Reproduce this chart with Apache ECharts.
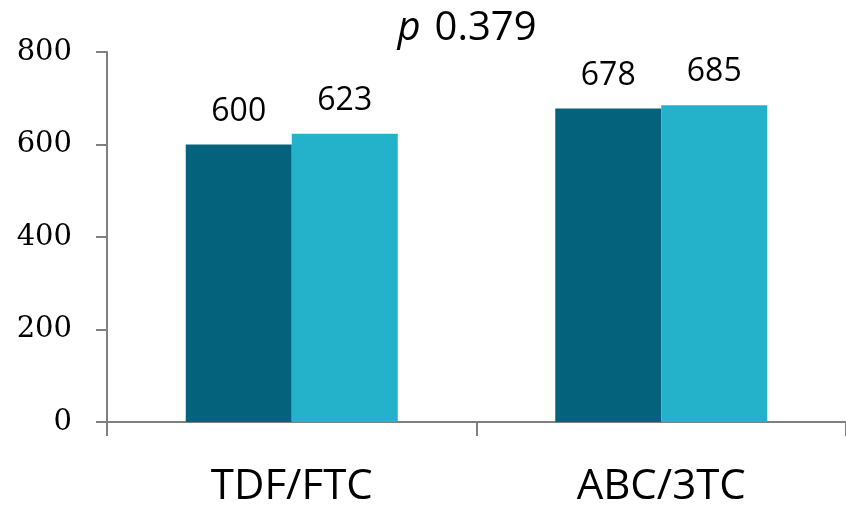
<!DOCTYPE html>
<html><head><meta charset="utf-8">
<script src="https://cdn.jsdelivr.net/npm/echarts@6/dist/echarts.min.js"></script>
<style>html,body{margin:0;padding:0;background:#fff}#c{width:846px;height:508px}</style>
</head><body><div id="c"></div>
<script>
const categories = ['TDF/FTC', 'ABC/3TC'];
const seriesA = [600, 678];
const seriesB = [623, 685];
const yTicks = [0, 200, 400, 600, 800];
const titleText = '0.379';

const chart = echarts.init(document.getElementById('c'));
const labelStyle = {show: true, position: 'top', distance: 17, fontFamily: 'Open Sans', fontSize: 32, color: '#000'};
chart.setOption({
  animation: false,
  title: {
    text: '{i|p}{n|' + titleText + '}',
    left: 462, top: 4, textAlign: 'center',
    textStyle: {rich: {
      i: {fontFamily: 'Open Sans', fontStyle: 'italic', fontWeight: 'normal', fontSize: 40, color: '#000', padding: [0, 14, 0, 0]},
      n: {fontFamily: 'Open Sans', fontWeight: 'normal', fontSize: 40, color: '#000'}
    }}
  },
  grid: {left: 107, right: -5, top: 52, bottom: 84, containLabel: false},
  xAxis: {
    type: 'category', data: categories,
    axisLine: {lineStyle: {color: '#808080', width: 2}},
    axisTick: {show: true, length: 14, lineStyle: {color: '#808080', width: 2}},
    axisLabel: {margin: 44, fontFamily: 'Open Sans', fontSize: 42, color: '#000'}
  },
  yAxis: {
    type: 'value', min: yTicks[0], max: yTicks[yTicks.length - 1], interval: 200,
    axisLine: {show: true, lineStyle: {color: '#808080', width: 2}},
    axisTick: {show: true, length: 11, lineStyle: {color: '#808080', width: 2}},
    splitLine: {show: false},
    axisLabel: {margin: 35, fontFamily: 'DejaVu Serif', fontSize: 29, color: '#000'}
  },
  series: [
    {type: 'bar', data: seriesA, barWidth: 106, barGap: '0%', itemStyle: {color: '#05627C'}, label: labelStyle},
    {type: 'bar', data: seriesB, barWidth: 106, barGap: '0%', itemStyle: {color: '#23B2CA'}, label: labelStyle}
  ]
});
</script></body></html>
